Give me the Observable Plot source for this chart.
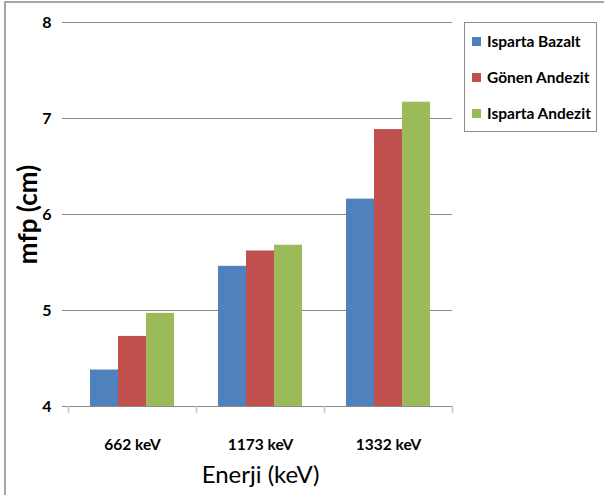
<!DOCTYPE html>
<html>
<head>
<meta charset="utf-8">
<script src="https://cdn.jsdelivr.net/npm/d3@7"></script>
<script src="https://cdn.jsdelivr.net/npm/@observablehq/plot@0.6"></script>
<style>
  body { margin: 0; background: #fff; }
  #wrap { position: relative; width: 604px; height: 495px; overflow: hidden; background: #fff;
          font-family: Lato, "Open Sans", sans-serif; }
  #border { position: absolute; left: 4px; top: 1px; width: 700px; height: 600px;
            border-top: 2px solid #a6a6a6; border-left: 2px solid #a6a6a6; pointer-events: none; }
  #chart { position: absolute; left: 0; top: 0; }
  #legend { position: absolute; left: 464px; top: 22px; width: 133px; height: 110px;
            box-sizing: border-box; border: 1px solid #8c8c8c; background: #fff; padding-left: 7px; }
  #legend .lg-swatches { margin: 0; font-family: Lato, "Open Sans", sans-serif;
            font-size: 15.5px; font-weight: bold; color: #000; }
  #legend .lg-swatch { height: 36px; padding: 0; display: flex; align-items: center; }
  #legend .lg-swatch > svg { margin-right: 6px; }
  #legend .lg-swatch * { overflow: visible !important; text-overflow: clip !important; white-space: nowrap; }
</style>
</head>
<body>
<div id="wrap">
  <div id="chart"></div>
  <div id="legend"></div>
  <div id="border"></div>
</div>
<script>
// Gamma energies (categories) and rock samples (series)
const energies = ["662 keV", "1173 keV", "1332 keV"];
const samples = ["Isparta Bazalt", "Gönen Andezit", "Isparta Andezit"];

// Mean free path (cm) per energy, one array per sample
const ispartaBazalt = [4.38, 5.46, 6.16];
const gonenAndezit = [4.73, 5.62, 6.885];
const ispartaAndezit = [4.97, 5.68, 7.17];

const sampleColors = ["#4F81BD", "#C0504D", "#9BBB59"];
const yTicks = [4, 5, 6, 7, 8];
const yDomain = [4, 8];

const series = [ispartaBazalt, gonenAndezit, ispartaAndezit];
const rows = energies.flatMap((energy, i) =>
  series.map((values, j) => ({energy, sample: samples[j], mfp: values[i]}))
);

const font = 'Lato, "Open Sans", sans-serif';

// short vertical stroke used for the category-boundary ticks under the axis
const tickShape = {
  draw(context, l) { context.moveTo(0, 0); context.lineTo(0, -l); }
};

const chart = Plot.plot({
  width: 604,
  height: 495,
  marginLeft: 67,
  marginRight: 151,
  marginTop: 22,
  marginBottom: 89,
  style: {fontFamily: font, background: "transparent", overflow: "visible"},
  fx: {domain: energies, padding: 0, label: null},
  x: {domain: samples, paddingInner: 0, paddingOuter: 0.76, axis: null},
  y: {domain: yDomain, label: null},
  color: {domain: samples, range: sampleColors},
  marks: [
    Plot.gridY(yTicks, {stroke: "#8a8a8a", strokeOpacity: 1}),
    Plot.axisY({ticks: [], line: true, stroke: "#d4d4d4", strokeOpacity: 1, label: null}),
    Plot.axisY(yTicks, {
      tickSize: 6, tickPadding: 11, tickFormat: "d", stroke: "#8a8a8a", strokeOpacity: 1,
      fill: "#000", fontSize: 16, fontWeight: "bold", label: null
    }),
    Plot.axisY({
      ticks: [], tickSize: 0, label: "mfp (cm)", labelAnchor: "center", labelArrow: "none",
      labelOffset: 50, fontSize: 26, fontWeight: "bold", fill: "#000"
    }),
    Plot.barY(rows, {fx: "energy", x: "sample", y1: yDomain[0], y2: "mfp", fill: "sample"}),
    Plot.vector(energies, {
      fx: (d) => d, frameAnchor: "bottom-left", length: 6, rotate: 180, anchor: "start",
      shape: tickShape, stroke: "#c8c8c8"
    }),
    Plot.vector(energies.slice(-1), {
      fx: (d) => d, frameAnchor: "bottom-right", length: 6, rotate: 180, anchor: "start",
      shape: tickShape, stroke: "#c8c8c8"
    }),
    Plot.axisFx({
      anchor: "bottom", tickSize: 0, tickPadding: 32, fontSize: 15.5, fontWeight: "bold",
      fill: "#000", label: null
    }),
    Plot.axisFx({
      anchor: "bottom", ticks: [], tickSize: 0, label: "Enerji (keV)", labelAnchor: "center",
      labelArrow: "none", labelOffset: 76, fontSize: 24, fill: "#000"
    })
  ]
});
document.getElementById("chart").appendChild(chart);

const legend = Plot.legend({
  color: {domain: samples, range: sampleColors},
  columns: 1,
  swatchSize: 9,
  className: "lg"
});
document.getElementById("legend").appendChild(legend);
</script>
</body>
</html>
